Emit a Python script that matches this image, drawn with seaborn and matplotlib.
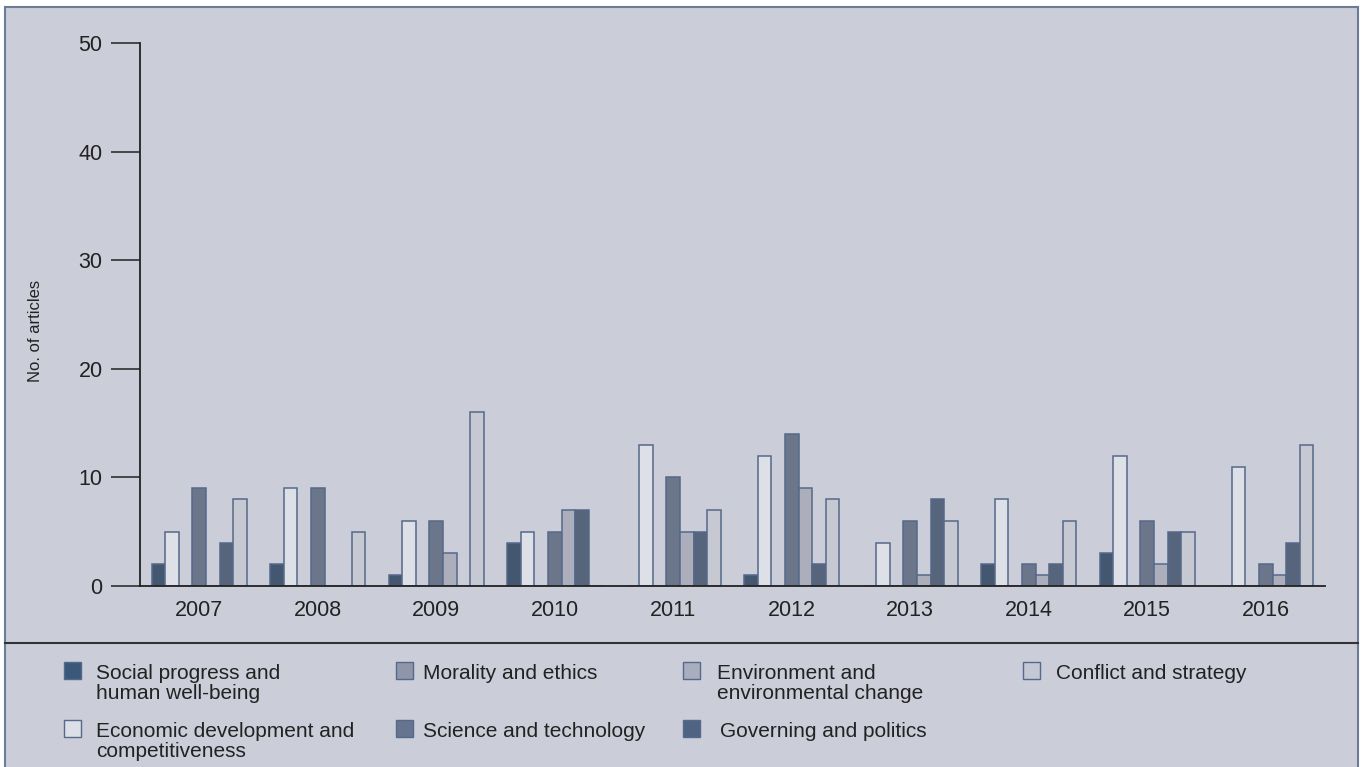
import numpy as np
import pandas as pd
import seaborn as sns
import matplotlib
matplotlib.use("Agg")
import matplotlib.pyplot as plt
from matplotlib.patches import Rectangle
from matplotlib.lines import Line2D

# ---------------- data ----------------
years = ['2007', '2008', '2009', '2010', '2011', '2012', '2013', '2014', '2015', '2016']
series = ['Social progress and\nhuman well-being',
          'Economic development and\ncompetitiveness',
          'Morality and ethics',
          'Science and technology',
          'Environment and\nenvironmental change',
          'Governing and politics',
          'Conflict and strategy']
social = [2, 2, 1, 4, 0, 1, 0, 2, 3, 0]
economic = [5, 9, 6, 5, 13, 12, 4, 8, 12, 11]
morality = [0, 0, 0, 0, 0, 0, 0, 0, 0, 0]
science = [9, 9, 6, 5, 10, 14, 6, 2, 6, 2]
environment = [0, 0, 3, 7, 5, 9, 1, 1, 2, 1]
governing = [4, 0, 0, 7, 5, 2, 8, 2, 5, 4]
conflict = [8, 5, 16, 0, 7, 8, 6, 6, 5, 13]
yticks = [0, 10, 20, 30, 40, 50]

colors = ['#3b5878', '#dcdfe7', '#8f96aa', '#66748f', '#a9aebe', '#506382', '#c4c8d4']

values = [social, economic, morality, science, environment, governing, conflict]
rows = []
for s, vals in zip(series, values):
    for y, v in zip(years, vals):
        rows.append({'year': y, 'topic': s, 'count': v})
df = pd.DataFrame(rows)

# ---------------- figure ----------------
plt.rcParams['font.family'] = ['Liberation Sans', 'DejaVu Sans']
W, H = 1365, 767
fig = plt.figure(figsize=(W / 100, H / 100), dpi=100, facecolor='white')

bg = '#cbcdd9'
fig.patches.append(Rectangle((5 / W, -0.02), (1358 - 5) / W, (767 - 7) / H + 0.02,
                             transform=fig.transFigure, facecolor=bg,
                             edgecolor='#6d7c96', linewidth=1.5, zorder=-5))
fig.lines.append(Line2D([5 / W, 1358 / W], [1 - 643 / H] * 2, transform=fig.transFigure,
                        color='#333333', linewidth=1.5))

ax = fig.add_axes([140 / W, 1 - 586 / H, 1185 / W, 543 / H])
ax.set_facecolor('none')

sns.barplot(data=df, x='year', y='count', hue='topic', order=years, hue_order=series,
            palette=dict(zip(series, colors)), width=0.8, edgecolor='#55698a',
            linewidth=1.1, legend=False, ax=ax)

ax.set_xlim(-0.5, 9.5)
ax.set_ylim(0, 50)
ax.set_yticks(yticks)
ax.set_yticklabels([str(t) for t in yticks])
for s in ['top', 'right']:
    ax.spines[s].set_visible(False)
for s in ['left', 'bottom']:
    ax.spines[s].set_color('#222222')
    ax.spines[s].set_linewidth(1.3)
ax.tick_params(axis='y', length=21, width=1.1, color='#222222', pad=6,
               labelsize=15.5, labelcolor='#222222')
ax.tick_params(axis='x', length=0, pad=10, labelsize=15.5, labelcolor='#222222')
ax.set_xlabel('')
ax.set_ylabel('No. of articles', fontsize=12, color='#222222')
ax.yaxis.set_label_coords(-0.0815, 0.47)

# ---------------- legend (manual layout) ----------------
marker_x = [64, 64, 396, 396, 683, 683, 1023]
text_x = [96, 96, 423, 423, 717, 720, 1056]
row_y = [662, 720, 662, 720, 662, 720, 662]
for i, s in enumerate(series):
    fig.patches.append(Rectangle((marker_x[i] / W, 1 - (row_y[i] + 17) / H), 17 / W, 17 / H,
                                 transform=fig.transFigure, facecolor=colors[i],
                                 edgecolor='#55698a', linewidth=1.0, zorder=3))
    fig.text(text_x[i] / W, 1 - (row_y[i] + 2) / H, s, ha='left', va='top',
             fontsize=15, color='#222222', linespacing=1.05)

fig.savefig('out.png', dpi=100, facecolor='white')
